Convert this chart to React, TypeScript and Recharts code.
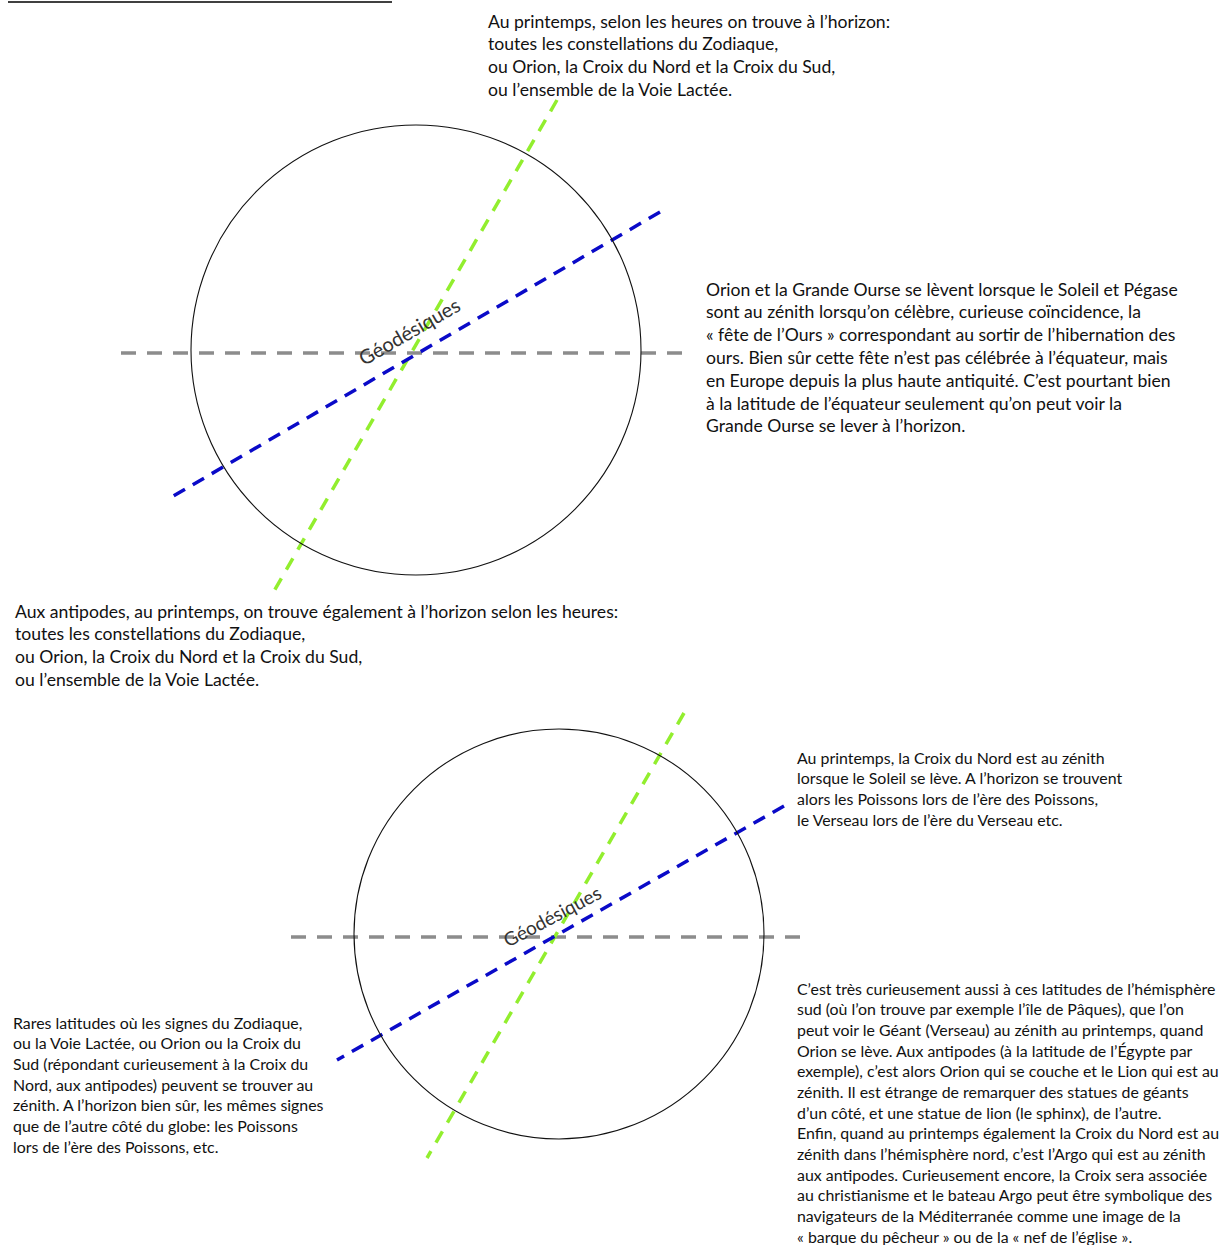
import React from "react";
import { ComposedChart, XAxis, YAxis, ReferenceDot, ReferenceLine } from "recharts";

const W = 1230;
const H = 1245;

// diagram geometry in page units (x right, y down)
const topRule = [{ x: 8, y: 2 }, { x: 392, y: 2 }];

const horizon1 = [{ x: 121, y: 353 }, { x: 688, y: 353 }];
const green1 = [{ x: 557, y: 100 }, { x: 270, y: 598 }];
const blue1 = [{ x: 660, y: 212 }, { x: 170, y: 498 }];

const horizon2 = [{ x: 291, y: 937 }, { x: 808, y: 937 }];
const green2 = [{ x: 684, y: 713 }, { x: 427, y: 1158 }];
const blue2 = [{ x: 784, y: 806 }, { x: 337, y: 1060 }];

const circles = [
  { x: 416, y: 350, r: 225 },
  { x: 559, y: 934, r: 205 },
];

const geoLabels = [
  { x: 409, y: 331, angle: -30, size: 20 },
  { x: 552, y: 916, angle: -28, size: 19 },
];
const geoText = "Géodésiques";

const blockA = [
  "Au printemps, selon les heures on trouve à l’horizon:",
  "toutes les constellations du Zodiaque,",
  "ou Orion, la Croix du Nord et la Croix du Sud,",
  "ou l’ensemble de la Voie Lactée.",
];
const blockB = [
  "Orion et la Grande Ourse se lèvent lorsque le Soleil et Pégase",
  "sont au zénith lorsqu’on célèbre, curieuse coïncidence, la",
  "« fête de l’Ours » correspondant au sortir de l’hibernation des",
  "ours. Bien sûr cette fête n’est pas célébrée à l’équateur, mais",
  "en Europe depuis la plus haute antiquité. C’est pourtant bien",
  "à la latitude de l’équateur seulement qu’on peut voir la",
  "Grande Ourse se lever à l’horizon.",
];
const blockC = [
  "Aux antipodes, au printemps, on trouve également à l’horizon selon les heures:",
  "toutes les constellations du Zodiaque,",
  "ou Orion, la Croix du Nord et la Croix du Sud,",
  "ou l’ensemble de la Voie Lactée.",
];
const blockD = [
  "Au printemps, la Croix du Nord est au zénith",
  "lorsque le Soleil se lève. A l’horizon se trouvent",
  "alors les Poissons lors de l’ère des Poissons,",
  "le Verseau lors de l’ère du Verseau etc.",
];
const blockE = [
  "Rares latitudes où les signes du Zodiaque,",
  "ou la Voie Lactée, ou Orion ou la Croix du",
  "Sud (répondant curieusement à la Croix du",
  "Nord, aux antipodes) peuvent se trouver au",
  "zénith. A l’horizon bien sûr, les mêmes signes",
  "que de l’autre côté du globe: les Poissons",
  "lors de l’ère des Poissons, etc.",
];
const blockF = [
  "C’est très curieusement aussi à ces latitudes de l’hémisphère",
  "sud (où l’on trouve par exemple l’île de Pâques), que l’on",
  "peut voir le Géant (Verseau) au zénith au printemps, quand",
  "Orion se lève. Aux antipodes (à la latitude de l’Égypte par",
  "exemple), c’est alors Orion qui se couche et le Lion qui est au",
  "zénith. Il est étrange de remarquer des statues de géants",
  "d’un côté, et une statue de lion (le sphinx), de l’autre.",
  "Enfin, quand au printemps également la Croix du Nord est au",
  "zénith dans l’hémisphère nord, c’est l’Argo qui est au zénith",
  "aux antipodes. Curieusement encore, la Croix sera associée",
  "au christianisme et le bateau Argo peut être symbolique des",
  "navigateurs de la Méditerranée comme une image de la",
  "« barque du pêcheur » ou de la « nef de l’église ».",
];

const FONT = "Lato, 'Open Sans', sans-serif";

function TextBlock({ lines, left, midY, lh, size }: { lines: string[]; left: number; midY: number; lh: number; size: number }) {
  return (
    <div
      style={{
        position: "absolute",
        left,
        top: midY - lh / 2,
        fontFamily: FONT,
        fontSize: size,
        lineHeight: `${lh}px`,
        color: "#111",
        whiteSpace: "pre",
      }}
    >
      {lines.map((l, i) => (
        <div key={i}>{l}</div>
      ))}
    </div>
  );
}

const GRAY = "#8c8c8c";
const GREEN = "#92ee2e";
const BLUE = "#0a0ac8";

const segments = [
  { pts: topRule, stroke: "#000", width: 1.6, dash: undefined as string | undefined },
  { pts: horizon1, stroke: GRAY, width: 3.5, dash: "15 11" },
  { pts: green1, stroke: GREEN, width: 3.5, dash: "13 10" },
  { pts: blue1, stroke: BLUE, width: 3.5, dash: "13 9" },
  { pts: horizon2, stroke: GRAY, width: 3.5, dash: "15 11" },
  { pts: green2, stroke: GREEN, width: 3.5, dash: "13 10" },
  { pts: blue2, stroke: BLUE, width: 3.5, dash: "13 9" },
];

export default function App() {
  return (
    <div style={{ position: "absolute", left: 0, top: 0, width: W, height: H, background: "#fff", overflow: "hidden" }}>
      <ComposedChart width={W} height={H} margin={{ top: 0, right: 0, bottom: 0, left: 0 }} data={[{ x: 0, y: 0 }, { x: W, y: H }]}>
        <XAxis type="number" dataKey="x" domain={[0, W]} hide allowDataOverflow />
        <YAxis type="number" dataKey="y" domain={[0, H]} reversed hide allowDataOverflow />
        {circles.map((c, i) => (
          <ReferenceDot key={i} x={c.x} y={c.y} r={c.r} fill="none" stroke="#111" strokeWidth={1.1} ifOverflow="visible" />
        ))}
        {segments.map((s, i) => (
          <ReferenceLine
            key={i}
            segment={[s.pts[0], s.pts[1]]}
            stroke={s.stroke}
            strokeWidth={s.width}
            strokeDasharray={s.dash}
            ifOverflow="visible"
          />
        ))}
      </ComposedChart>

      {geoLabels.map((g, i) => (
        <div
          key={i}
          style={{
            position: "absolute",
            left: g.x,
            top: g.y,
            transform: `translate(-50%, -50%) rotate(${g.angle}deg)`,
            fontFamily: FONT,
            fontSize: g.size,
            color: "#333",
            whiteSpace: "pre",
          }}
        >
          {geoText}
        </div>
      ))}

      <TextBlock lines={blockA} left={488} midY={22} lh={22.7} size={17.6} />
      <TextBlock lines={blockB} left={706} midY={290} lh={22.8} size={17.6} />
      <TextBlock lines={blockC} left={15} midY={612} lh={22.7} size={17.6} />
      <TextBlock lines={blockD} left={797} midY={758} lh={20.7} size={15.9} />
      <TextBlock lines={blockE} left={13} midY={1023} lh={20.7} size={15.9} />
      <TextBlock lines={blockF} left={797} midY={989} lh={20.65} size={15.9} />
    </div>
  );
}
